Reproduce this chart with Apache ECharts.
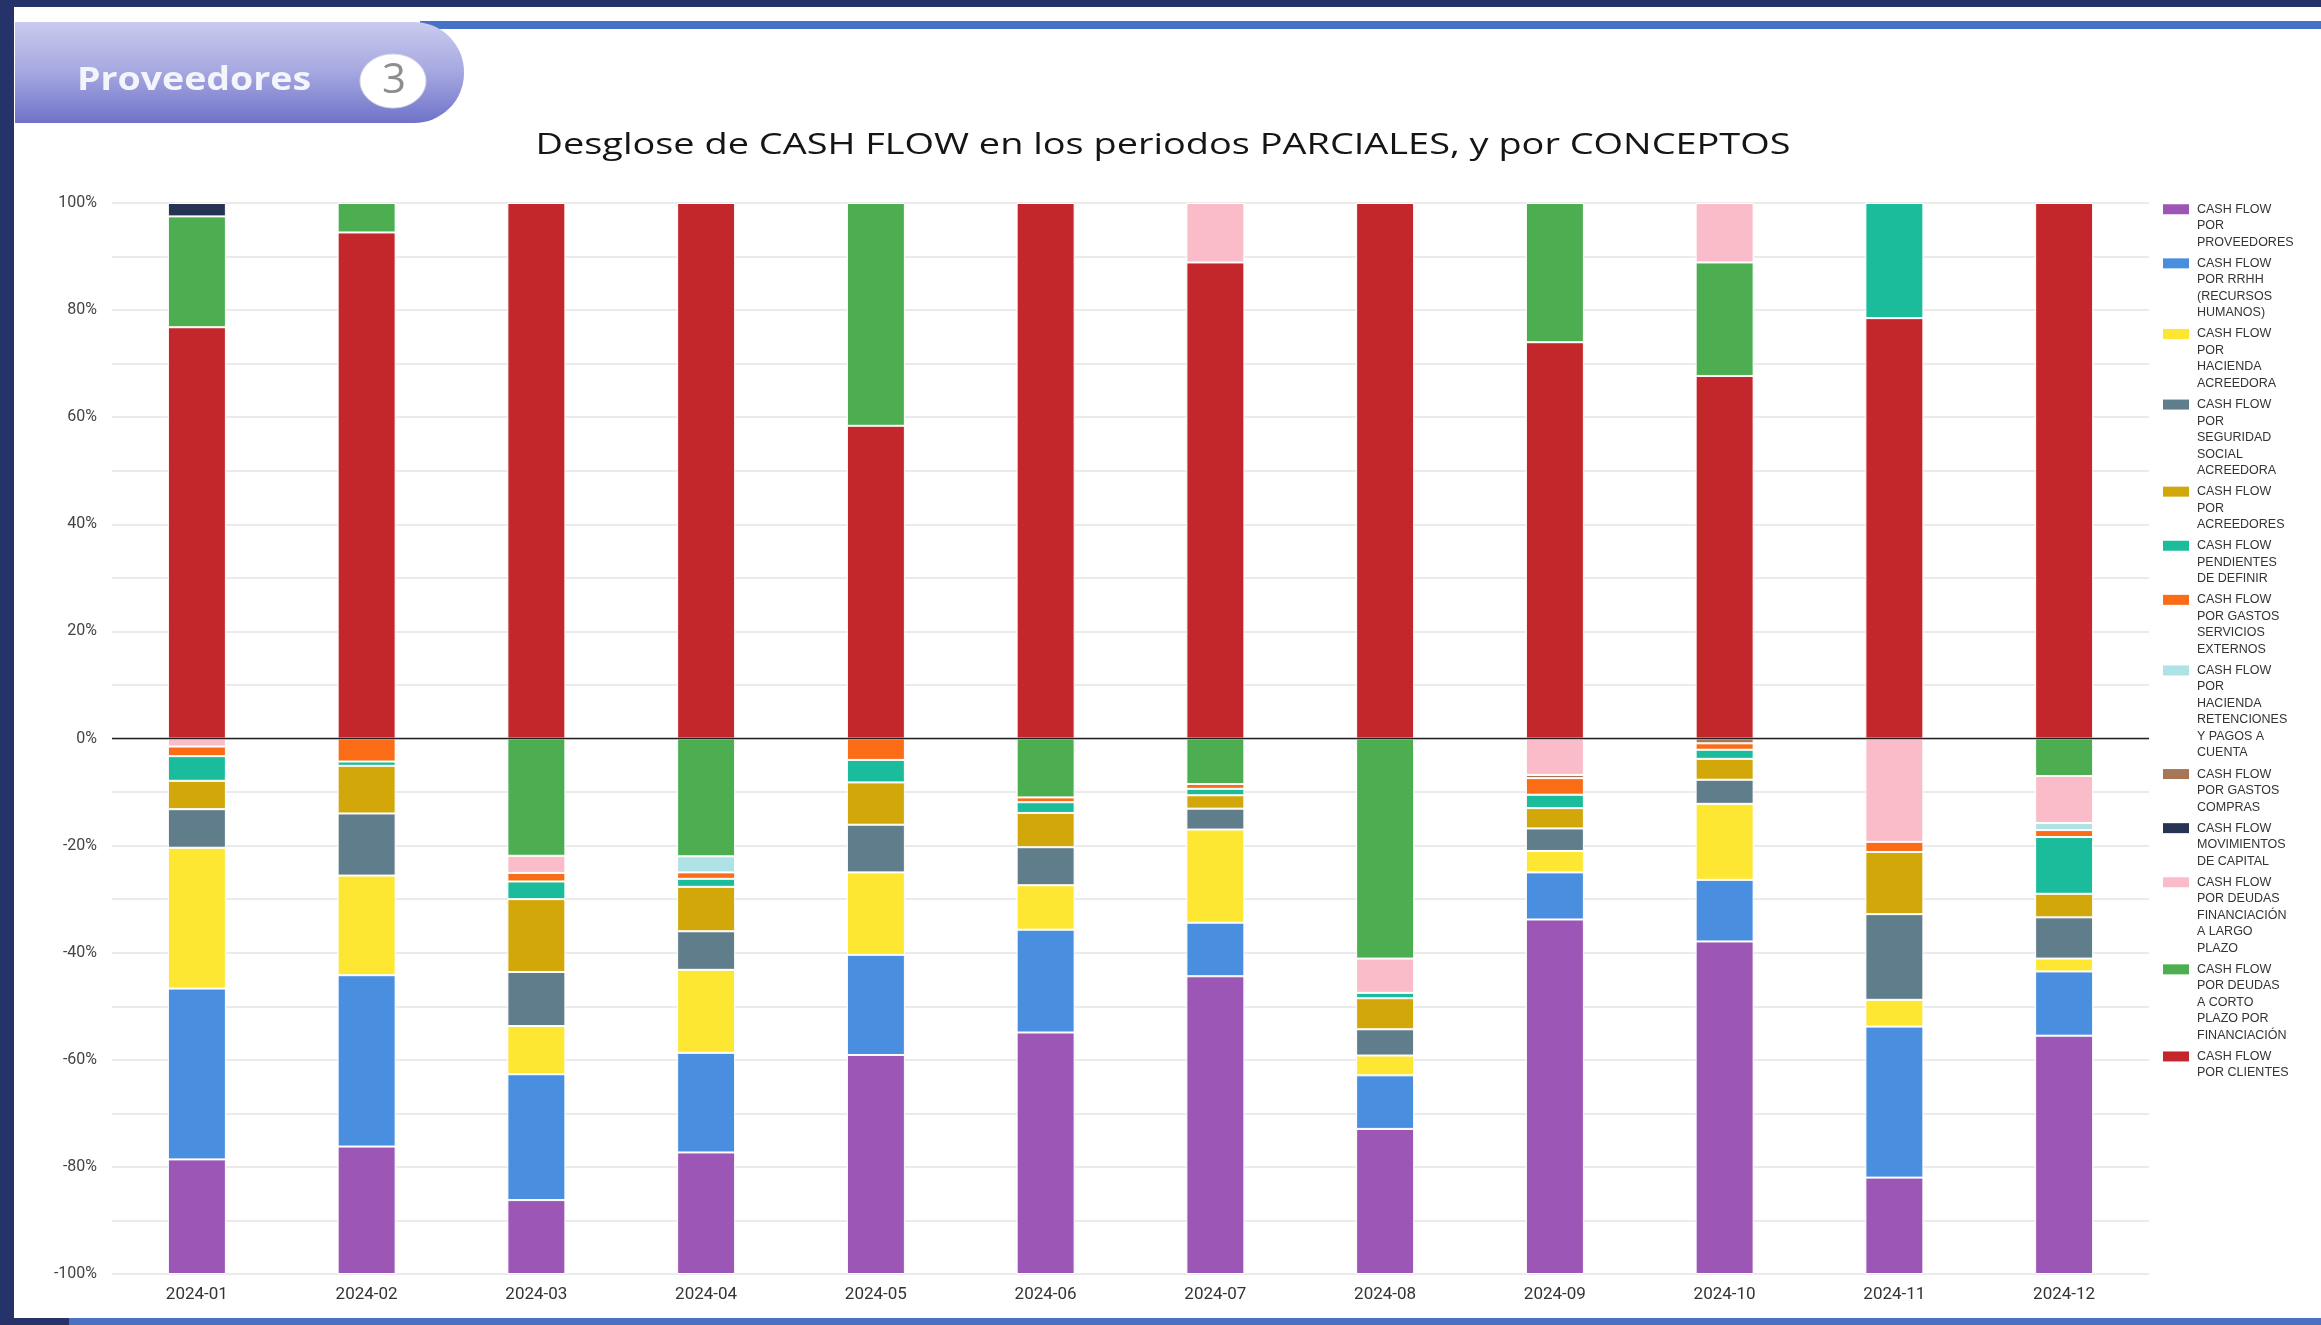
<!DOCTYPE html>
<html>
<head>
<meta charset="utf-8">
<script src="https://cdn.jsdelivr.net/npm/echarts@6/dist/echarts.min.js"></script>
<style>
html,body{margin:0;padding:0;width:2321px;height:1325px;overflow:hidden;background:#25336a;}
#panel{position:absolute;left:14px;top:7px;width:2307px;height:1311px;background:#fff;}
#bluetop{position:absolute;left:420px;top:21px;width:1901px;height:8px;background:#4472c4;}
#bluebottom{position:absolute;left:69px;top:1318px;width:2252px;height:7px;background:#4a70bf;}
#chart{position:absolute;left:0;top:0;width:2321px;height:1325px;}
</style>
</head>
<body>
<div id="panel"></div>
<div id="bluetop"></div>
<div id="bluebottom"></div>
<div id="chart"></div>
<script>
// ---------- DATA ----------
const months = ['2024-01','2024-02','2024-03','2024-04','2024-05','2024-06','2024-07','2024-08','2024-09','2024-10','2024-11','2024-12'];

const proveedores   = [-21.4,-23.8,-13.8,-22.7,-40.9,-45.1,-55.6,-27.1,-66.2,-62.1,-18.0,-44.5];
const rrhh          = [-31.9,-32.0,-23.5,-18.6,-18.7,-19.2,-10.0,-10.0,-8.8,-11.5,-28.2,-12.0];
const haciendaAcr   = [-26.3,-18.6,-9.0,-15.5,-15.4,-8.3,-17.4,-3.7,-4.0,-14.2,-5.0,-2.4];
const segSocial     = [-7.2,-11.6,-10.1,-7.2,-8.9,-7.1,-3.9,-4.9,-4.2,-4.5,-16.0,-7.7];
const acreedores    = [-5.3,-8.9,-13.6,-8.3,-7.9,-6.4,-2.5,-5.8,-3.8,-3.9,-11.6,-4.4];
const pendientes    = [-4.6,-0.8,-3.3,-1.5,-4.2,-2.0,-1.2,-1.0,-2.5,-1.7,21.5,-10.6];
const serviciosExt  = [-1.8,-4.3,-1.6,-1.2,-4.0,-0.9,-0.9,0,-3.1,-1.2,-1.9,-1.3];
const retenciones   = [0,0,0,-3.0,0,0,0,0,0,0,0,-1.3];
const compras       = [0,0,0,0,0,0,0,0,-0.6,-0.9,0,0];
const capital       = [2.5,0,0,0,0,0,0,0,0,0,0,0];
const largoPlazo    = [-1.5,0,-3.2,0,0,0,11.1,-6.4,-6.8,11.1,-19.3,-8.8];
const cortoPlazo    = [20.7,5.5,-21.9,-22.0,41.6,-11.0,-8.5,-41.1,26.0,21.2,0,-7.0];
const clientes      = [76.8,94.5,100,100,58.4,100,88.9,100,74.0,67.7,78.5,100];

const yTicks = [-100,-80,-60,-40,-20,0,20,40,60,80,100];

const NAMES = [
  'CASH FLOW POR PROVEEDORES',
  'CASH FLOW POR RRHH (RECURSOS HUMANOS)',
  'CASH FLOW POR HACIENDA ACREEDORA',
  'CASH FLOW POR SEGURIDAD SOCIAL ACREEDORA',
  'CASH FLOW POR ACREEDORES',
  'CASH FLOW PENDIENTES DE DEFINIR',
  'CASH FLOW POR GASTOS SERVICIOS EXTERNOS',
  'CASH FLOW POR HACIENDA RETENCIONES Y PAGOS A CUENTA',
  'CASH FLOW POR GASTOS COMPRAS',
  'CASH FLOW MOVIMIENTOS DE CAPITAL',
  'CASH FLOW POR DEUDAS FINANCIACIÓN A LARGO PLAZO',
  'CASH FLOW POR DEUDAS A CORTO PLAZO POR FINANCIACIÓN',
  'CASH FLOW POR CLIENTES'
];
const LEGEND_LINES = [
  ['CASH FLOW','POR','PROVEEDORES'],
  ['CASH FLOW','POR RRHH','(RECURSOS','HUMANOS)'],
  ['CASH FLOW','POR','HACIENDA','ACREEDORA'],
  ['CASH FLOW','POR','SEGURIDAD','SOCIAL','ACREEDORA'],
  ['CASH FLOW','POR','ACREEDORES'],
  ['CASH FLOW','PENDIENTES','DE DEFINIR'],
  ['CASH FLOW','POR GASTOS','SERVICIOS','EXTERNOS'],
  ['CASH FLOW','POR','HACIENDA','RETENCIONES','Y PAGOS A','CUENTA'],
  ['CASH FLOW','POR GASTOS','COMPRAS'],
  ['CASH FLOW','MOVIMIENTOS','DE CAPITAL'],
  ['CASH FLOW','POR DEUDAS','FINANCIACIÓN','A LARGO','PLAZO'],
  ['CASH FLOW','POR DEUDAS','A CORTO','PLAZO POR','FINANCIACIÓN'],
  ['CASH FLOW','POR CLIENTES']
];
const VALUES = [proveedores, rrhh, haciendaAcr, segSocial, acreedores, pendientes, serviciosExt,
                retenciones, compras, capital, largoPlazo, cortoPlazo, clientes];

const TITLE = 'Desglose de CASH FLOW en los periodos PARCIALES, y por CONCEPTOS';
const HEADER = 'Proveedores';
const HEADER_NUM = '3';

// ---------- STYLE ----------
const COLORS = ['#9c56b5','#4a8fdf','#fde733','#607d8b','#d1a70a','#1bbc9b','#fb6c17',
                '#aee2e5','#a57757','#263352','#fbbcca','#4cae50','#c3272b'];

function textWidth(text, font){
  const c = document.createElement('canvas').getContext('2d');
  c.font = font; return c.measureText(text).width;
}
const titleFont = '30px "Open Sans"';
const titleScale = 1255 / textWidth(TITLE, titleFont);
const headFont = 'bold 32px "Open Sans"';
const headScale = 234 / textWidth(HEADER, headFont);

const rich = {
  t: {fontSize: 12.5, fontFamily: '"Liberation Sans", Arial, sans-serif', color: '#333333', lineHeight: 16.5},
  g: {width: 8, lineHeight: 16.5},
  p: {width: 34, lineHeight: 16.5}
};
COLORS.forEach((c, i) => { rich['c' + i] = {width: 26, height: 10, lineHeight: 16.5, backgroundColor: c}; });

// series in stacking order (nearest to zero first) = reverse legend order
const series = [];
for (let i = NAMES.length - 1; i >= 0; i--) {
  const s = {
    name: NAMES[i],
    type: 'bar',
    stack: 'total',
    barWidth: 58,
    data: VALUES[i].map(v => v === 0 ? '-' : v),
    itemStyle: {color: COLORS[i], borderColor: '#ffffff', borderWidth: 1},
    emphasis: {disabled: true},
    animation: false
  };
  if (i === NAMES.length - 1) {
    s.markLine = {
      silent: true, symbol: 'none', z: 10, animation: false,
      label: {show: false},
      lineStyle: {color: '#222', width: 1.3, type: 'solid'},
      data: [{yAxis: 0}]
    };
  }
  series.push(s);
}

const chart = echarts.init(document.getElementById('chart'), null, {renderer: 'canvas'});
chart.setOption({
  animation: false,
  backgroundColor: 'transparent',
  grid: {left: 112, right: 172, top: 203, bottom: 51, containLabel: false, outerBoundsMode: 'none'},
  legend: {
    orient: 'vertical',
    left: 2158, top: 201,
    padding: 0,
    itemGap: 4.6,
    itemWidth: 0, itemHeight: 0,
    icon: 'none',
    selectedMode: false,
    data: NAMES,
    formatter: function (name) {
      const i = NAMES.indexOf(name);
      return LEGEND_LINES[i].map((ln, k) => (k === 0 ? '{c' + i + '|}{g|}' : '{p|}') + '{t|' + ln + '}').join('\n');
    },
    textStyle: {fontSize: 12.5, lineHeight: 16.5, rich: rich}
  },
  xAxis: {
    type: 'category',
    data: months,
    axisLine: {show: false},
    axisTick: {show: false},
    axisLabel: {fontSize: 17, color: '#333', margin: 12, fontFamily: 'Roboto, sans-serif'}
  },
  yAxis: {
    type: 'value',
    min: -100, max: 100, interval: 10,
    axisLine: {show: false},
    axisTick: {show: false},
    splitLine: {lineStyle: {color: '#e4e4e4', width: 1.5}},
    axisLabel: {
      fontSize: 16, color: '#444', margin: 15, fontFamily: 'Roboto, sans-serif',
      formatter: v => yTicks.indexOf(Math.round(v)) >= 0 ? Math.round(v) + '%' : ''
    }
  },
  graphic: [
    {type: 'rect', shape: {x: 15, y: 22, width: 449, height: 101, r: [0, 50, 50, 0]},
     style: {fill: new echarts.graphic.LinearGradient(0, 0, 0, 1, [
       {offset: 0, color: '#cacbef'}, {offset: 0.5, color: '#a5a7e0'}, {offset: 1, color: '#6f72c8'}])}},
    {type: 'ellipse', shape: {cx: 393, cy: 81, rx: 33, ry: 27},
     style: {fill: '#ffffff', stroke: '#d6d6e6', lineWidth: 1}},
    {type: 'text', x: 77, y: 81, scaleX: headScale,
     style: {text: HEADER, font: headFont, fill: '#f4f4fb', verticalAlign: 'middle'}},
    {type: 'text', x: 394, y: 81,
     style: {text: HEADER_NUM, font: '42px "Open Sans"', fill: '#8e8e8e', align: 'center', verticalAlign: 'middle'}},
    {type: 'text', x: 1163, y: 145, scaleX: titleScale,
     style: {text: TITLE, font: titleFont, fill: '#151515', align: 'center', verticalAlign: 'middle'}}
  ],
  series: series
});
</script>
</body>
</html>
